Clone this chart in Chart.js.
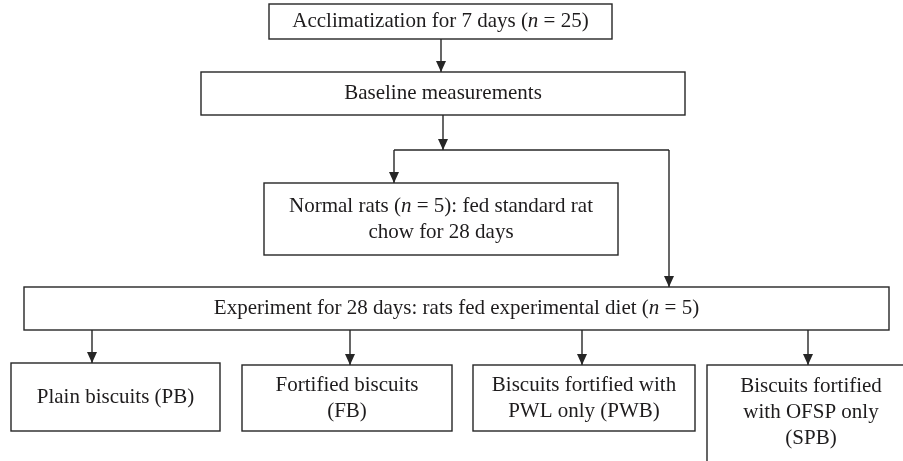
<!DOCTYPE html>
<html>
<head>
<meta charset="utf-8">
<script src="https://cdn.jsdelivr.net/npm/chart.js@4"></script>
<style>
  body { margin: 0; background: #fff; }
  #wrap { width: 903px; height: 461px; position: relative; }
</style>
</head>
<body>
<div id="wrap"><canvas id="flowChart"></canvas></div>
<script>
//=[ Data ]======================================================================

// box texts; *n* is set in italics
const steps = [
  "Acclimatization for 7 days (*n* = 25)",
  "Baseline measurements",
  "Normal rats (*n* = 5): fed standard rat\nchow for 28 days",
  "Experiment for 28 days: rats fed experimental diet (*n* = 5)",
  "Plain biscuits (PB)",
  "Fortified biscuits\n(FB)",
  "Biscuits fortified with\nPWL only (PWB)",
  "Biscuits fortified\nwith OFSP only\n(SPB)",
];

// which step leads to which
const links = [
  [0, 1],
  [1, 2],
  [1, 3],
  [3, 4],
  [3, 5],
  [3, 6],
  [3, 7],
];

//=[ Layout (scale units = pixels of the figure) ]================================

const layout = {
  boxes: [
    { x0: 269, y0: 4, x1: 612, y1: 39 },
    { x0: 201, y0: 72, x1: 685, y1: 115 },
    { x0: 264, y0: 183, x1: 618, y1: 255 },
    { x0: 24, y0: 287, x1: 889, y1: 330 },
    { x0: 11, y0: 363, x1: 220, y1: 431 },
    { x0: 242, y0: 365, x1: 452, y1: 431 },
    { x0: 473, y0: 365, x1: 695, y1: 431 },
    { x0: 707, y0: 365, x1: 915, y1: 480, ty: 412 },
  ],
  // one route per link, in the same order
  routes: [
    [[441, 39], [441, 72]],
    [[394, 150], [394, 183]],
    [[669, 150], [669, 287]],
    [[92, 330], [92, 363]],
    [[350, 330], [350, 365]],
    [[582, 330], [582, 365]],
    [[808, 330], [808, 365]],
  ],
  // trunk of the split below "Baseline measurements"
  extra: [
    { pts: [[443, 115], [443, 150]], arrow: true },
    { pts: [[394, 150], [669, 150]], arrow: false },
  ],
  lineHeight: 26,
};

const ink = "#262626";
const textInk = "#1e1c1d";
const fontSize = 21;
const fontFamily = "'Liberation Serif', 'DejaVu Serif', serif";

//=[ Drawing ]===================================================================

function drawRichLine(ctx, text, cx, cy) {
  const parts = text.split("*").map((t, i) => ({ t, italic: i % 2 === 1 }));
  let total = 0;
  for (const p of parts) {
    ctx.font = (p.italic ? "italic " : "") + fontSize + "px " + fontFamily;
    p.w = ctx.measureText(p.t).width;
    total += p.w;
  }
  let x = cx - total / 2;
  ctx.textAlign = "left";
  ctx.textBaseline = "middle";
  for (const p of parts) {
    ctx.font = (p.italic ? "italic " : "") + fontSize + "px " + fontFamily;
    ctx.fillText(p.t, x, cy);
    x += p.w;
  }
}

function drawWire(ctx, sx, sy, pts, arrow) {
  const P = pts.map(([a, b]) => [sx(a), sy(b)]);
  ctx.beginPath();
  ctx.moveTo(P[0][0], P[0][1]);
  for (let i = 1; i < P.length; i++) ctx.lineTo(P[i][0], P[i][1]);
  ctx.stroke();
  if (!arrow) return;
  const [ex, ey] = P[P.length - 1];
  const [px, py] = P[P.length - 2];
  const ang = Math.atan2(ey - py, ex - px);
  const len = 11, half = 5;
  ctx.beginPath();
  ctx.moveTo(ex, ey);
  ctx.lineTo(ex - len * Math.cos(ang) + half * Math.sin(ang), ey - len * Math.sin(ang) - half * Math.cos(ang));
  ctx.lineTo(ex - len * Math.cos(ang) - half * Math.sin(ang), ey - len * Math.sin(ang) + half * Math.cos(ang));
  ctx.closePath();
  ctx.fill();
}

const flowPlugin = {
  id: "flow",
  afterDraw(chart) {
    const ctx = chart.ctx;
    const sx = (v) => chart.scales.x.getPixelForValue(v);
    const sy = (v) => chart.scales.y.getPixelForValue(v);
    ctx.save();
    ctx.fillStyle = "#fff";
    ctx.fillRect(0, 0, chart.width, chart.height);
    ctx.strokeStyle = ink;
    ctx.lineWidth = 1.4;

    steps.forEach((label, i) => {
      const b = layout.boxes[i];
      const x0 = sx(b.x0), x1 = sx(b.x1), y0 = sy(b.y0), y1 = sy(b.y1);
      ctx.strokeRect(x0, y0, x1 - x0, y1 - y0);
      const lines = label.split("\n");
      const cy = sy(b.ty != null ? b.ty : (b.y0 + b.y1) / 2);
      const lh = layout.lineHeight;
      ctx.fillStyle = textInk;
      lines.forEach((ln, k) => {
        drawRichLine(ctx, ln, (x0 + x1) / 2, cy + (k - (lines.length - 1) / 2) * lh);
      });
    });

    ctx.fillStyle = ink;
    links.forEach((lk, i) => drawWire(ctx, sx, sy, layout.routes[i], true));
    layout.extra.forEach((w) => drawWire(ctx, sx, sy, w.pts, w.arrow));
    ctx.restore();
  },
};

new Chart(document.getElementById("flowChart"), {
  type: "scatter",
  data: { datasets: [] },
  options: {
    responsive: true,
    maintainAspectRatio: false,
    animation: false,
    events: [],
    layout: { padding: 0 },
    scales: {
      x: { type: "linear", min: 0, max: 903, display: false },
      y: { type: "linear", min: 0, max: 461, reverse: true, display: false },
    },
    plugins: {
      legend: { display: false },
      tooltip: { enabled: false },
    },
  },
  plugins: [flowPlugin],
});
</script>
</body>
</html>
